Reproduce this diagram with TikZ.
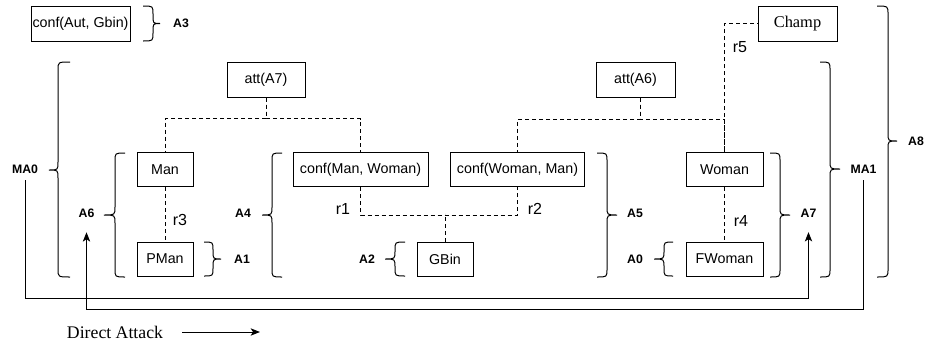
\documentclass[tikz,border=0pt]{standalone}
\usepackage{fontspec}
\setmainfont{Liberation Sans}
\newfontfamily\seriffam{Liberation Serif}
\usetikzlibrary{arrows.meta,calc}

% curly brace: x0 (arm ends), xv (vertical), xt (tip), y1, ym, y2
\newcommand\cbrace[6]{%
  \draw[bracestyle] (#1,#4) .. controls (#2,#4) .. (#2,#4+8) -- (#2,#5-8)
    .. controls (#2,#5) .. (#3,#5) .. controls (#2,#5) .. (#2,#5+8)
    -- (#2,#6-8) .. controls (#2,#6) .. (#1,#6);}

\begin{document}
\begin{tikzpicture}[x=0.75pt,y=-0.75pt,
  box/.style={draw, line width=0.75pt, inner sep=0pt, minimum height=25.5pt,
    font=\fontsize{10.7}{12}\selectfont},
  lbl/.style={font=\fontsize{9.2}{11}\selectfont\bfseries, inner sep=0pt},
  rlbl/.style={font=\fontsize{12}{14}\selectfont, inner sep=0pt},
  dashline/.style={line width=0.75pt, dash pattern=on 3pt off 2.25pt},
  bracestyle/.style={line width=0.75pt},
  arr/.style={line width=0.75pt, -{Stealth[length=7pt,width=5.5pt,inset=1.8pt]}}]
\useasboundingbox (0,0) rectangle (927,343);

% boxes
\node[box, minimum width=74.25pt, minimum height=26.25pt] (aut) at (80.5,23.5) {conf(Aut, Gbin)};
\node[box, minimum width=58.5pt, minimum height=26.25pt] (attA7) at (266,79.5) {att(A7)};
\node[box, minimum width=59.25pt, minimum height=26.25pt] (attA6) at (635.5,79.5) {att(A6)};
\node[box, minimum width=59.25pt, minimum height=26.25pt, font=\seriffam\fontsize{12.3}{14}\selectfont] (champ) at (797.5,23.5) {Champ};
\node[box, minimum width=42pt] (man) at (165,169.5) {Man};
\node[box, minimum width=101.25pt] (cmw) at (360.5,169.5) {conf(Man, Woman)};
\node[box, minimum width=100.5pt] (cwm) at (517.5,169.5) {conf(Woman, Man)};
\node[box, minimum width=57.75pt] (woman) at (724.5,169.5) {Woman};
\node[box, minimum width=42pt] (pman) at (165,259) {PMan};
\node[box, minimum width=42pt] (gbin) at (445,259) {GBin};
\node[box, minimum width=57.75pt] (fwoman) at (724.5,259) {FWoman};

% dashed relations
\draw[dashline] (attA7.south) -- ++(0,21) -| (man.north);
\draw[dashline] (attA7.south) -- ++(0,21) -| (cmw.north);
\draw[dashline] ([xshift=3.5pt]attA6.south) -- ++(0,22) -| (cwm.north);
\draw[dashline] ([xshift=3.5pt]attA6.south) -- ++(0,22) -| (woman.north);
\draw[dashline] (woman.north) |- (champ.west);
\draw[dashline] (man.south) -- (pman.north);
\draw[dashline] (woman.south) -- (fwoman.north);
\draw[dashline] (cmw.south) -- ++(0,28) -| (cwm.south);
\draw[dashline] (gbin.north) -- ++(0,-28);

% relation labels
\node[rlbl] (r1) at (343,209) {r1};
\node[rlbl] (r2) at (535,209) {r2};
\node[rlbl] (r3) at (180,220) {r3};
\node[rlbl] (r4) at (741,221) {r4};
\node[rlbl] (r5) at (740,47) {r5};

% braces
\cbrace{143}{153}{160}{6}{23.5}{41}
\cbrace{70}{58}{49}{62}{170}{277}
\cbrace{125}{115}{104}{153}{215}{277}
\cbrace{204}{213}{221}{242}{259}{276}
\cbrace{282}{272}{262}{153}{215}{277}
\cbrace{405}{395}{385}{242}{259}{276}
\cbrace{597}{607}{617}{153}{215}{277}
\cbrace{673}{664}{654}{242}{259}{276}
\cbrace{770}{780}{790}{153}{215}{277}
\cbrace{820}{830}{840}{62}{169}{277}
\cbrace{877}{888}{897}{6}{141}{277}

% brace labels
\node[lbl] (lA3) at (181,23) {A3};
\node[lbl] (lMA0) at (25,169) {MA0};
\node[lbl] (lA6) at (86.5,213) {A6};
\node[lbl] (lA1) at (242,259) {A1};
\node[lbl] (lA4) at (243,213) {A4};
\node[lbl] (lA2) at (367,259) {A2};
\node[lbl] (lA5) at (635,213) {A5};
\node[lbl] (lA0) at (635,259) {A0};
\node[lbl] (lA7) at (808.5,213) {A7};
\node[lbl] (lMA1) at (863.5,169) {MA1};
\node[lbl] (lA8) at (916,141) {A8};

% attacks
\coordinate (ylow) at (0,298);
\coordinate (yhigh) at (0,309);
\draw[arr] ([yshift=-5pt]lMA0.south) |- (lA7.south |- ylow) -- ([yshift=-11pt]lA7.south);
\draw[arr] ([yshift=-5pt]lMA1.south) |- (lA6.south |- yhigh) -- ([yshift=-11pt]lA6.south);

% legend
\node[font=\seriffam\fontsize{13.3}{15}\selectfont, inner sep=0pt] (da) at (115,332) {Direct Attack};
\coordinate (dastart) at (182,332);
\coordinate (daend) at (260,332);
\draw[arr] (dastart) -- (daend);
\end{tikzpicture}
\end{document}
